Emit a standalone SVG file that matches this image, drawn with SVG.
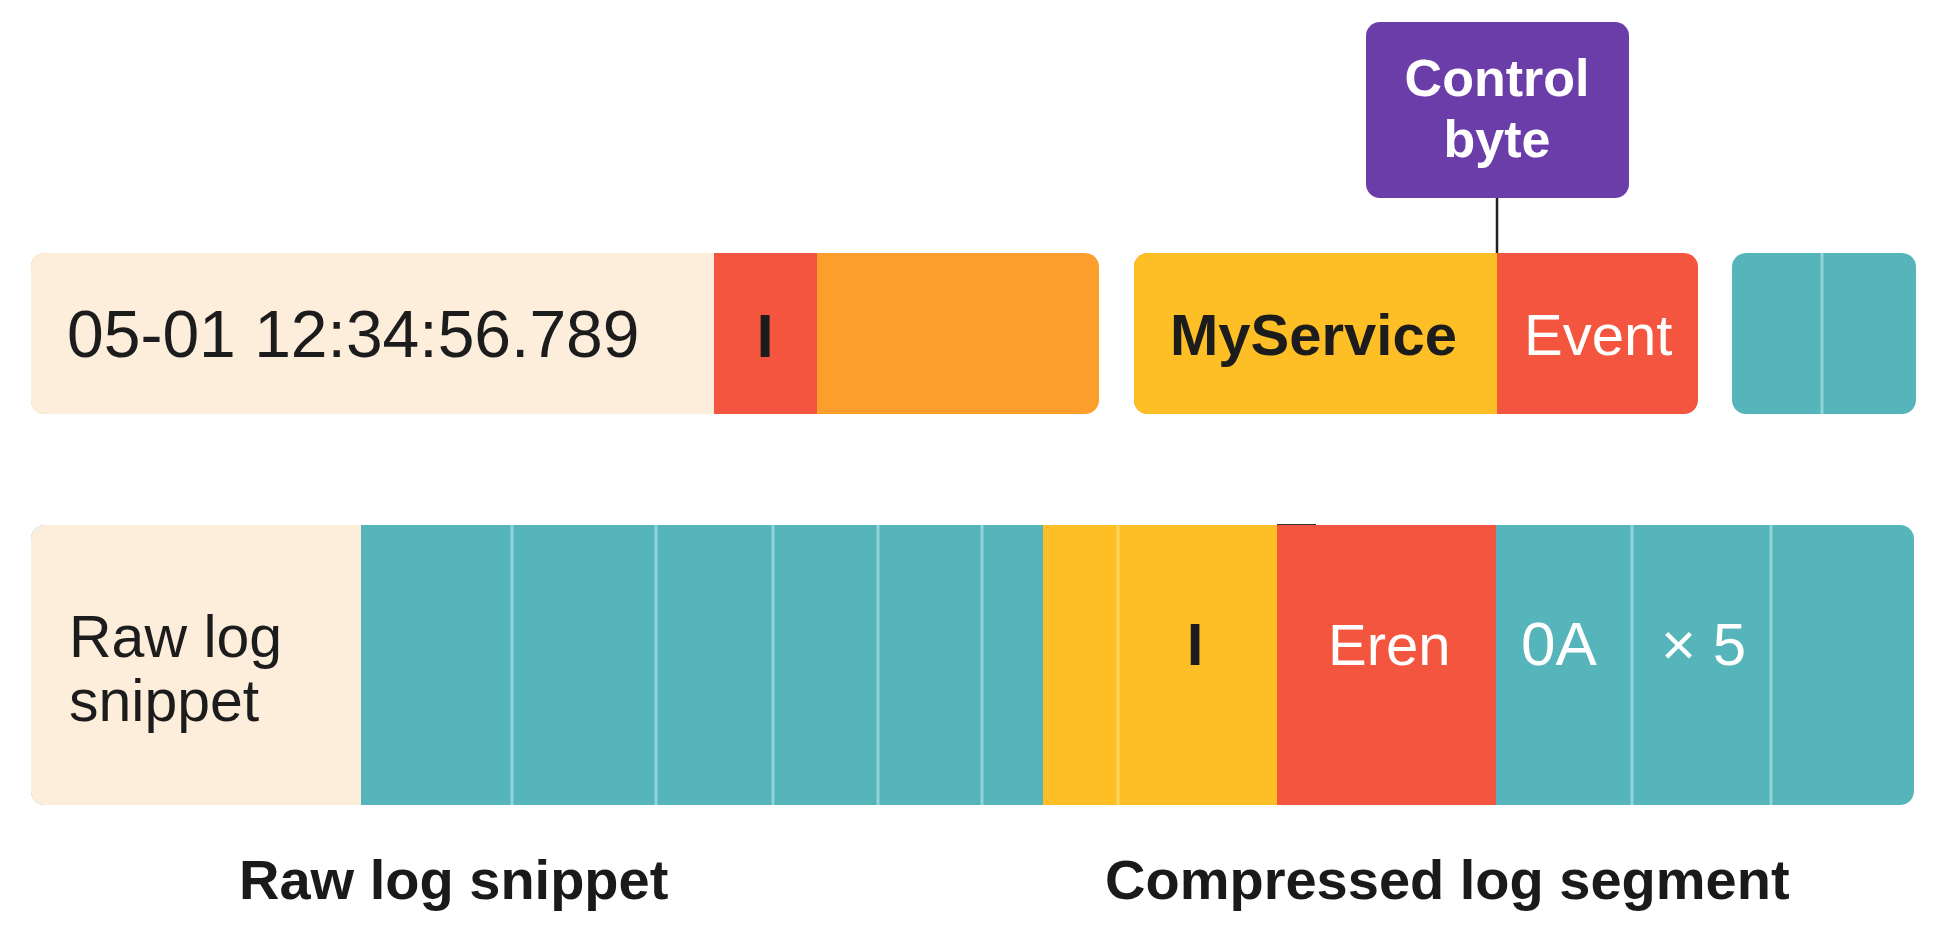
<svg xmlns="http://www.w3.org/2000/svg" width="1939" height="934" viewBox="0 0 1939 934">
<style>
  text { font-family: "Liberation Sans", Arial, sans-serif; }
  .dark { fill: #1c1c1c; }
  .light { fill: #ffffff; }
  .beige { fill: #FDEEDC; }
  .red { fill: #F4553F; }
  .orange { fill: #FC9E2B; }
  .yellow { fill: #FDBE26; }
  .teal { fill: #55B5BA; }
  .purple { fill: #6A3DA8; }
  .tdiv { stroke: #8ED5D7; stroke-width: 3; }
  .ydiv { stroke: #FFD65E; stroke-width: 3; }
  .label { font-weight: bold; font-size: 56px; fill: #1a1a1a; }
</style>
<rect width="1939" height="934" fill="#ffffff"/>

<g id="top-raw">
  <rect class="orange" x="31" y="253" width="1068" height="161" rx="14"/>
  <rect class="beige" x="31" y="253" width="700" height="161" rx="14"/>
  <rect class="red" x="714" y="253" width="103" height="161"/>
  <text class="dark" x="67" y="357" font-size="66">05-01 12:34:56.789</text>
  <text class="dark" x="765" y="357" font-size="62" font-weight="bold" text-anchor="middle">I</text>
</g>

<g id="top-compressed">
  <rect class="red" x="1134" y="253" width="564" height="161" rx="14"/>
  <rect class="yellow" x="1134" y="253" width="362" height="161" rx="14"/>
  <rect class="yellow" x="1470" y="253" width="27" height="161"/>
  <text class="dark" x="1170" y="355" font-size="58" font-weight="bold">MyService</text>
  <text class="light" x="1524" y="355" font-size="58">Event</text>
</g>

<g id="top-teal">
  <rect class="teal" x="1732" y="253" width="184" height="161" rx="14"/>
  <line class="tdiv" x1="1822" y1="253" x2="1822" y2="414"/>
</g>

<g id="control-byte">
  <rect class="purple" x="1366" y="22" width="263" height="176" rx="14"/>
  <text class="light" x="1497" y="96" font-size="52" font-weight="bold" text-anchor="middle">Control</text>
  <text class="light" x="1497" y="157" font-size="52" font-weight="bold" text-anchor="middle">byte</text>
</g>

<g id="connectors">
  <line x1="1497" y1="198" x2="1497" y2="253" stroke="#222222" stroke-width="2.5"/>
  <line x1="1277" y1="525.5" x2="1316" y2="525.5" stroke="#333333" stroke-width="3"/>
</g>

<g id="bottom-row">
  <rect class="teal" x="31" y="525" width="1883" height="280" rx="14"/>
  <rect class="beige" x="31" y="525" width="350" height="280" rx="14"/>
  <rect class="teal" x="361" y="525" width="682" height="280"/>
  <rect class="yellow" x="1043" y="525" width="234" height="280"/>
  <rect class="red" x="1277" y="525" width="219" height="280"/>
  <line class="tdiv" x1="512" y1="525" x2="512" y2="805"/>
  <line class="tdiv" x1="656" y1="525" x2="656" y2="805"/>
  <line class="tdiv" x1="773" y1="525" x2="773" y2="805"/>
  <line class="tdiv" x1="878" y1="525" x2="878" y2="805"/>
  <line class="tdiv" x1="982" y1="525" x2="982" y2="805"/>
  <line class="ydiv" x1="1118" y1="525" x2="1118" y2="805"/>
  <line class="tdiv" x1="1632" y1="525" x2="1632" y2="805"/>
  <line class="tdiv" x1="1771" y1="525" x2="1771" y2="805"/>
  <text class="dark" x="69" y="657" font-size="59">Raw log</text>
  <text class="dark" x="69" y="721" font-size="59">snippet</text>
  <text class="dark" x="1195" y="665" font-size="60" font-weight="bold" text-anchor="middle">I</text>
  <text class="light" x="1328" y="665" font-size="58">Eren</text>
  <text class="light" x="1521" y="665" font-size="62">0A</text>
  <text class="light" x="1661" y="665" font-size="60">× 5</text>
</g>

<g id="labels">
  <text class="label" x="239" y="899">Raw log snippet</text>
  <text class="label" x="1105" y="899">Compressed log segment</text>
</g>
</svg>
